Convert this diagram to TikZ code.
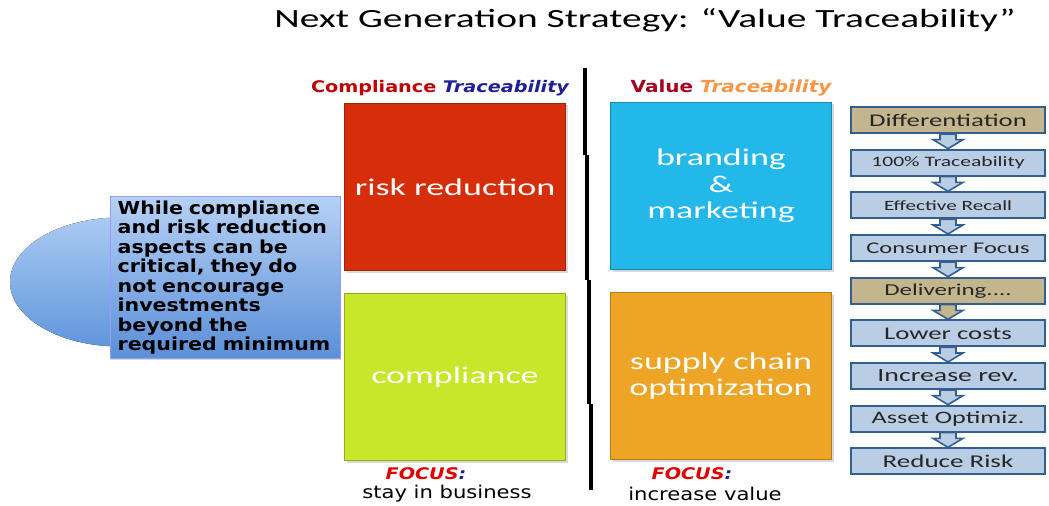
\documentclass[tikz,border=0pt]{standalone}
\usepackage{fontspec}
\setmainfont{Carlito}[FakeStretch=1.5]
\newfontfamily\verd{DejaVu Sans}[FakeStretch=1.2]
\newfontfamily\noteverd{DejaVu Sans}[FakeStretch=1.15]
\usetikzlibrary{positioning,shadows,calc}

\definecolor{riskred}{HTML}{D62E0A}
\definecolor{complgreen}{HTML}{C8E62A}
\definecolor{brandblue}{HTML}{22B8EA}
\definecolor{supplyorange}{HTML}{EEA424}
\definecolor{stackblue}{HTML}{B9CDE5}
\definecolor{stacktan}{HTML}{C4B68C}
\definecolor{stackline}{HTML}{335E8F}
\definecolor{labelred}{HTML}{C00000}
\definecolor{labelnavy}{HTML}{1F1F99}
\definecolor{labelorange}{HTML}{F79646}
\definecolor{valuered}{HTML}{A50021}
\definecolor{focusred}{HTML}{E00000}
\definecolor{notetop}{HTML}{B5D1F5}
\definecolor{notebottom}{HTML}{5B8FD8}
\definecolor{ovaltop}{HTML}{AACAF2}
\definecolor{ovalbottom}{HTML}{6196DC}

\tikzset{
  bigbox/.style={draw=#1!75!black, fill=#1, minimum width=165.75pt, minimum height=125.25pt,
    text=white, align=center, font=\fontsize{18}{20}\selectfont,
    drop shadow={opacity=0.3, shadow xshift=1.5pt, shadow yshift=-1.5pt}},
  stackbox/.style={draw=stackline, line width=1.5pt, fill=#1, minimum width=145.5pt,
    minimum height=19.5pt, inner sep=0pt, text=black!85},
  arrowshape/.style={draw=stackline, line width=1.2pt, fill=#1},
}

% block arrow between two stacked boxes
\newcommand{\flowarrow}[3]{%
  \filldraw[arrowshape=#3] ($(#1.south)+(-8,0)$) -- ($(#2.north)+(-8,-9)$) -- ($(#2.north)+(-15,-9)$)
    -- (#2.north) -- ($(#2.north)+(15,-9)$) -- ($(#2.north)+(8,-9)$) -- ($(#1.south)+(8,0)$) -- cycle;}

\begin{document}
\begin{tikzpicture}[x=0.75pt,y=-0.75pt]

\useasboundingbox (0,0) rectangle (1049,506);

\node (title) at (645,20) {\fontsize{19.7}{22}\selectfont Next Generation Strategy: “Value Traceability”};

% left note
\fill[top color=ovaltop, bottom color=ovalbottom] (120,282) ellipse [x radius=110, y radius=64.5];
\node[draw=blue!40!white, top color=notetop, bottom color=notebottom,
  minimum width=172.5pt, minimum height=120pt, inner xsep=2pt, text width=161pt, align=left,
  font=\noteverd\bfseries\fontsize{13.4}{14.6}\selectfont,
  drop shadow={opacity=0.3, shadow xshift=1pt, shadow yshift=-1pt}] (note) at (225,277.5)
  {While compliance\\and risk reduction\\aspects can be\\critical, they do\\not encourage\\investments\\beyond the\\required minimum};

% quadrants
\node[bigbox=riskred] (risk) at (455,187) {risk reduction};
\node[bigbox=complgreen] (compl) at (455,377) {compliance};
\node[bigbox=brandblue] (brand) at (721,186) {branding\\\&\\marketing};
\node[bigbox=supplyorange] (supply) at (721,376) {supply chain\\optimization};

\node (cmpllabel) at (440,88) {\verd\bfseries\fontsize{12}{14}\selectfont\color{labelred}Compliance \color{labelnavy}\itshape Traceability};
\node (valuelabel) at (731,88) {\verd\bfseries\fontsize{12.5}{14}\selectfont\color{valuered}Value \color{labelorange}\itshape Traceability};

\node (focusa) at (426,474) {\verd\bfseries\itshape\fontsize{12}{14}\selectfont\color{focusred}FOCUS\color{labelnavy}:};
\node (stay) at (447,494) {\verd\fontsize{13.2}{14}\selectfont stay in business};
\node (focusb) at (692,474) {\verd\bfseries\itshape\fontsize{12}{14}\selectfont\color{focusred}FOCUS\color{labelnavy}:};
\node (incr) at (705,494) {\verd\fontsize{13.2}{14}\selectfont increase value};

% divider
\draw[line width=3pt] (585,68) -- (585,155);
\draw[line width=3pt] (587,155) -- (587,280);
\draw[line width=3pt] (589,280) -- (589,404);
\draw[line width=3pt] (591,404) -- (591,490);

% value chain
\node[stackbox=stacktan, font=\fontsize{13.4}{15}\selectfont] (diff) at (948,120) {Differentiation};
\node[stackbox=stackblue, font=\fontsize{10.8}{12}\selectfont, below=11pt of diff] (trace) {100\% Traceability};
\node[stackbox=stackblue, font=\fontsize{10.6}{12}\selectfont, below=11pt of trace] (recall) {Effective Recall};
\node[stackbox=stackblue, font=\fontsize{12.2}{14}\selectfont, below=11pt of recall] (consumer) {Consumer Focus};
\node[stackbox=stacktan, font=\fontsize{12.5}{14}\selectfont, below=11pt of consumer] (deliver) {Delivering....};
\node[stackbox=stackblue, font=\fontsize{13.4}{15}\selectfont, below=11pt of deliver] (lower) {Lower costs};
\node[stackbox=stackblue, font=\fontsize{13.9}{15}\selectfont, below=11pt of lower] (rev) {Increase rev.};
\node[stackbox=stackblue, font=\fontsize{13.1}{15}\selectfont, below=11pt of rev] (asset) {Asset Optimiz.};
\node[stackbox=stackblue, font=\fontsize{13.5}{15}\selectfont, below=11pt of asset] (reduce) {Reduce Risk};

\flowarrow{diff}{trace}{stackblue}
\flowarrow{trace}{recall}{stackblue}
\flowarrow{recall}{consumer}{stackblue}
\flowarrow{consumer}{deliver}{stackblue}
\flowarrow{deliver}{lower}{stacktan}
\flowarrow{lower}{rev}{stackblue}
\flowarrow{rev}{asset}{stackblue}
\flowarrow{asset}{reduce}{stackblue}

\end{tikzpicture}
\end{document}
